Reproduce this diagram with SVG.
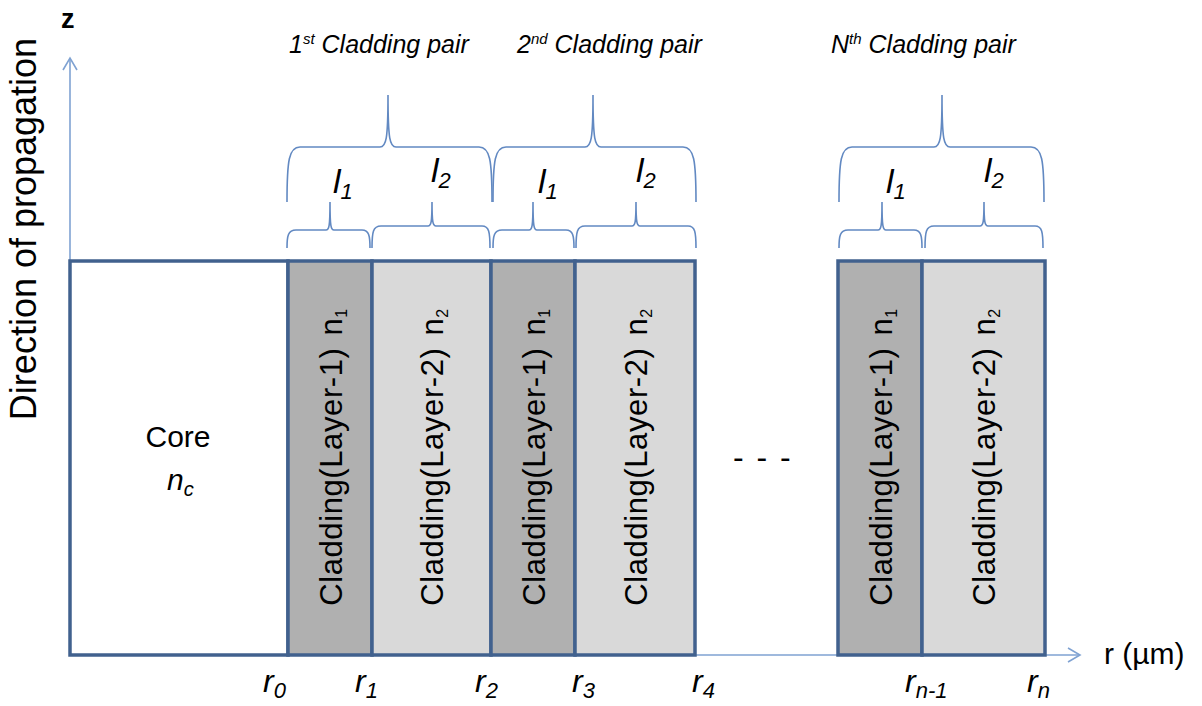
<svg xmlns="http://www.w3.org/2000/svg" width="1202" height="706" viewBox="0 0 1202 706">
<style>
.blk{stroke:#41618e;stroke-width:3.5;}
.dark{fill:#b0b0b0;}
.light{fill:#d9d9d9;}
.ax{stroke:#7fa2d2;stroke-width:1.6;fill:none;}
.br{stroke:#6289c2;stroke-width:1.6;fill:none;}
.t{font-family:"Liberation Sans",Arial,sans-serif;fill:#000;}
.it{font-style:italic;}
</style>
<rect width="1202" height="706" fill="#fff"/>
<g id="axes">
<line class="ax" x1="70" y1="261" x2="70" y2="58"/>
<polyline class="ax" points="63,70 70,58 77,70"/>
<line class="ax" x1="695" y1="655" x2="1080" y2="655"/>
<polyline class="ax" points="1068,648 1080,655 1068,662"/>
</g>
<g id="core">
<rect class="blk" x="70" y="261" width="218" height="394" fill="#fff"/>
<text class="t" x="178" y="447" font-size="30" text-anchor="middle">Core</text>
<text class="t it" x="167" y="490" font-size="30">n<tspan font-size="20" dy="6">c</tspan></text>
</g>
<g id="pair1-layer1">
<rect class="blk dark" x="288" y="261" width="84" height="394"/>
<text class="t" transform="translate(342,457) rotate(-90)" font-size="31" text-anchor="middle" letter-spacing="0.6">Cladding(Layer-1)<tspan dx="12">n</tspan><tspan font-size="16" dy="5">1</tspan></text>
</g>
<g id="pair1-layer2">
<rect class="blk light" x="372" y="261" width="119" height="394"/>
<text class="t" transform="translate(443,457) rotate(-90)" font-size="31" text-anchor="middle" letter-spacing="0.6">Cladding(Layer-2)<tspan dx="12">n</tspan><tspan font-size="16" dy="5">2</tspan></text>
</g>
<g id="pair2-layer1">
<rect class="blk dark" x="491" y="261" width="84" height="394"/>
<text class="t" transform="translate(545,457) rotate(-90)" font-size="31" text-anchor="middle" letter-spacing="0.6">Cladding(Layer-1)<tspan dx="12">n</tspan><tspan font-size="16" dy="5">1</tspan></text>
</g>
<g id="pair2-layer2">
<rect class="blk light" x="575" y="261" width="120" height="394"/>
<text class="t" transform="translate(647,457) rotate(-90)" font-size="31" text-anchor="middle" letter-spacing="0.6">Cladding(Layer-2)<tspan dx="12">n</tspan><tspan font-size="16" dy="5">2</tspan></text>
</g>
<g id="pairN-layer1">
<rect class="blk dark" x="838" y="261" width="84" height="394"/>
<text class="t" transform="translate(892,457) rotate(-90)" font-size="31" text-anchor="middle" letter-spacing="0.6">Cladding(Layer-1)<tspan dx="12">n</tspan><tspan font-size="16" dy="5">1</tspan></text>
</g>
<g id="pairN-layer2">
<rect class="blk light" x="922" y="261" width="123" height="394"/>
<text class="t" transform="translate(995,457) rotate(-90)" font-size="31" text-anchor="middle" letter-spacing="0.6">Cladding(Layer-2)<tspan dx="12">n</tspan><tspan font-size="16" dy="5">2</tspan></text>
</g>
<g id="braces">
<path class="br" d="M287,202 C287,160 289,147 300,147 L380,147 C386,147 388,140 388,95 C388,140 390,147 396,147 L479,147 C490,147 492,160 492,202"/>
<path class="br" d="M493,202 C493,160 495,147 506,147 L585,147 C591,147 593,140 593,95 C593,140 595,147 601,147 L683,147 C694,147 696,160 696,202"/>
<path class="br" d="M839,202 C839,160 841,147 852,147 L934,147 C940,147 942,140 942,95 C942,140 944,147 950,147 L1031,147 C1042,147 1044,160 1044,202"/>
<path class="br" d="M287,248 C287,236 288,230 296,230 L326,230 C329,230 330,227 330,202 C330,227 331,230 334,230 L362,230 C369,230 370,236 370,248"/>
<path class="br" d="M372,248 C372,232 373,226 381,226 L428,226 C431,226 432,223 432,202 C432,223 433,226 436,226 L482,226 C489,226 490,232 490,248"/>
<path class="br" d="M493,248 C493,236 494,230 502,230 L529,230 C532,230 533,227 533,202 C533,227 534,230 537,230 L566,230 C573,230 574,236 574,248"/>
<path class="br" d="M576,248 C576,232 577,226 585,226 L632,226 C635,226 636,223 636,202 C636,223 637,226 640,226 L688,226 C695,226 696,232 696,248"/>
<path class="br" d="M839,248 C839,236 840,230 848,230 L878,230 C881,230 882,227 882,202 C882,227 883,230 886,230 L914,230 C921,230 922,236 922,248"/>
<path class="br" d="M925,248 C925,232 926,226 934,226 L980,226 C983,226 984,223 984,202 C984,223 985,226 988,226 L1035,226 C1042,226 1043,232 1043,248"/>
</g>
<g id="labels">
<text class="t" x="61" y="28" font-size="27" font-weight="bold">z</text>
<text class="t" transform="translate(36,229) rotate(-90)" font-size="36" text-anchor="middle">Direction of propagation</text>
<text class="t" x="1104" y="664" font-size="30">r (µm)</text>
<text class="t" x="733" y="468" font-size="32" letter-spacing="2">- - -</text>
<text class="t it" x="289" y="53" font-size="25">1<tspan font-size="15" dy="-9">st</tspan><tspan dy="9"> Cladding pair</tspan></text>
<text class="t it" x="517" y="53" font-size="25">2<tspan font-size="15" dy="-9">nd</tspan><tspan dy="9"> Cladding pair</tspan></text>
<text class="t it" x="831" y="53" font-size="25">N<tspan font-size="15" dy="-9">th</tspan><tspan dy="9"> Cladding pair</tspan></text>
<text class="t it" x="333" y="193" font-size="34">l<tspan font-size="22" dy="6">1</tspan></text>
<text class="t it" x="431" y="182" font-size="34">l<tspan font-size="22" dy="6">2</tspan></text>
<text class="t it" x="538" y="193" font-size="34">l<tspan font-size="22" dy="6">1</tspan></text>
<text class="t it" x="636" y="182" font-size="34">l<tspan font-size="22" dy="6">2</tspan></text>
<text class="t it" x="886" y="193" font-size="34">l<tspan font-size="22" dy="6">1</tspan></text>
<text class="t it" x="984" y="182" font-size="34">l<tspan font-size="22" dy="6">2</tspan></text>
<text class="t it" x="263" y="692" font-size="32">r<tspan font-size="22" dy="6">0</tspan></text>
<text class="t it" x="355" y="692" font-size="32">r<tspan font-size="22" dy="6">1</tspan></text>
<text class="t it" x="475" y="692" font-size="32">r<tspan font-size="22" dy="6">2</tspan></text>
<text class="t it" x="572" y="692" font-size="32">r<tspan font-size="22" dy="6">3</tspan></text>
<text class="t it" x="692" y="692" font-size="32">r<tspan font-size="22" dy="6">4</tspan></text>
<text class="t it" x="905" y="692" font-size="32">r<tspan font-size="22" dy="6">n-1</tspan></text>
<text class="t it" x="1027" y="692" font-size="32">r<tspan font-size="22" dy="6">n</tspan></text>
</g>
</svg>
